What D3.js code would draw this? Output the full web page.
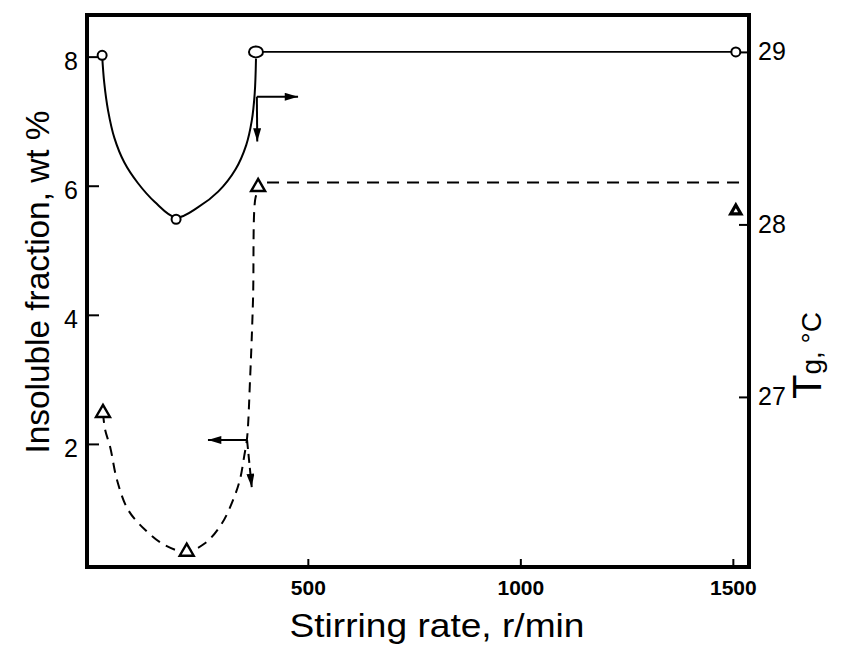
<!DOCTYPE html>
<html>
<head>
<meta charset="utf-8">
<script src="https://cdn.jsdelivr.net/npm/d3@7"></script>
<style>
  body { margin: 0; background: #fff; }
  text { font-family: "Liberation Sans", Arial, sans-serif; fill: #000; }
</style>
</head>
<body>
<div id="chart"></div>
<script>
// datos
var xTicks = [500, 1000, 1500];
var leftTicks = [2, 4, 6, 8];
var rightTicks = [27, 28, 29];

// Tg (eje derecho), circulos
var tgRate = [16, 190, 378, 1507];
var tgValue = [28.98, 28.03, 29.0, 29.0];

// fraccion insoluble (eje izquierdo), triangulos
var insRate = [18, 215, 383, 1507];
var insValue = [2.48, 0.33, 5.98, 5.61];

// trazo de la curva continua (Tg)
var tgTraceRate = [16, 21, 30, 45, 68, 100, 140, 190, 242, 289, 330, 355, 368, 375, 378];
var tgTraceValue = [28.98, 28.82, 28.66, 28.50, 28.36, 28.24, 28.13, 28.04, 28.10, 28.19, 28.32, 28.46, 28.60, 28.76, 28.96];

// trazo de la curva discontinua (insoluble)
var insTraceRate = [18, 23, 35, 51, 77, 117, 164, 213, 258, 298, 324, 340, 350, 357, 364, 371, 376, 383];
var insTraceValue = [2.48, 2.22, 1.95, 1.44, 0.98, 0.67, 0.43, 0.33, 0.46, 0.77, 1.13, 1.44, 1.80, 2.09, 2.99, 4.23, 5.78, 5.95];

// linea horizontal discontinua
var flatRate = [404, 1538];
var flatValue = [6.05, 6.05];

// Definimos las dimensiones
var W = 853, H = 659;
var frame = {left: 87, top: 15, right: 749, bottom: 567};

var svg = d3.select("#chart").append("svg")
  .attr("width", W).attr("height", H);

var x = d3.scaleLinear().domain([-19.6, 1538]).range([frame.left, frame.right]);
var yL = d3.scaleLinear().domain([0.093, 8.645]).range([frame.bottom, frame.top]);
var yR = d3.scaleLinear().domain([26.014, 29.214]).range([frame.bottom, frame.top]);

// flechas
var defs = svg.append("defs");
defs.append("marker")
  .attr("id", "head")
  .attr("viewBox", "0 0 10 6")
  .attr("refX", 10).attr("refY", 3)
  .attr("markerWidth", 14).attr("markerHeight", 8)
  .attr("markerUnits", "userSpaceOnUse")
  .attr("orient", "auto")
  .append("path").attr("d", "M0,0 L10,3 L0,6 Z").attr("fill", "#000");

// Ejes
var fmt = d3.format("d");
var xAxis = svg.append("g")
  .attr("transform", "translate(0," + frame.bottom + ")")
  .call(d3.axisBottom(x).tickValues(xTicks).tickFormat(fmt).tickSizeInner(-8).tickSizeOuter(0).tickPadding(13));

var leftAxis = svg.append("g")
  .attr("transform", "translate(" + frame.left + ",0)")
  .call(d3.axisLeft(yL).tickValues(leftTicks).tickFormat(fmt).tickSizeInner(-12).tickSizeOuter(0).tickPadding(9));

var rightAxis = svg.append("g")
  .attr("transform", "translate(" + frame.right + ",0)")
  .call(d3.axisRight(yR).tickValues(rightTicks).tickFormat(fmt).tickSizeInner(-10).tickSizeOuter(0).tickPadding(9));

[xAxis, leftAxis, rightAxis].forEach(function(a) {
  a.select(".domain").remove();
  a.selectAll(".tick line").attr("stroke", "#000").attr("stroke-width", 2);
  a.selectAll(".tick text").attr("fill", "#000");
});
xAxis.selectAll(".tick text").style("font-size", "21px").style("font-weight", "bold");
leftAxis.selectAll(".tick text").style("font-size", "25px").attr("dy", "0.5em");
rightAxis.selectAll(".tick text").style("font-size", "25px").attr("text-anchor", "start");

// marco
svg.append("rect")
  .attr("x", frame.left).attr("y", frame.top)
  .attr("width", frame.right - frame.left)
  .attr("height", frame.bottom - frame.top)
  .attr("fill", "none").attr("stroke", "#000").attr("stroke-width", 4);

// curvas
var lineTg = d3.line()
  .x(function(d, i) { return x(tgTraceRate[i]); })
  .y(function(d) { return yR(d); })
  .curve(d3.curveCatmullRom.alpha(0.5));

svg.append("path")
  .attr("d", lineTg(tgTraceValue))
  .attr("fill", "none").attr("stroke", "#000").attr("stroke-width", 2);

svg.append("line")
  .attr("x1", x(tgRate[2])).attr("y1", yR(tgValue[2]))
  .attr("x2", x(tgRate[3])).attr("y2", yR(tgValue[3]))
  .attr("stroke", "#000").attr("stroke-width", 1.6);

var lineIns = d3.line()
  .x(function(d, i) { return x(insTraceRate[i]); })
  .y(function(d) { return yL(d); })
  .curve(d3.curveCatmullRom.alpha(0.5));

svg.append("path")
  .attr("d", lineIns(insTraceValue))
  .attr("fill", "none").attr("stroke", "#000").attr("stroke-width", 2)
  .attr("stroke-dasharray", "10,7");

svg.append("line")
  .attr("x1", x(flatRate[0])).attr("y1", yL(flatValue[0]))
  .attr("x2", x(flatRate[1])).attr("y2", yL(flatValue[1]))
  .attr("stroke", "#000").attr("stroke-width", 2)
  .attr("stroke-dasharray", "12,8");

// flechas (coordenadas en unidades de los datos)
var arrows = [
  {r1: 380, v1: 28.74, r2: 477, v2: 28.74, s: yR, dash: null},
  {r1: 380, v1: 28.74, r2: 381, v2: 28.48, s: yR, dash: null},
  {r1: 357, v1: 2.06, r2: 265, v2: 2.06, s: yL, dash: null},
  {r1: 357, v1: 2.06, r2: 368, v2: 1.33, s: yL, dash: "9,5"}
];
svg.selectAll("line.arrow")
  .data(arrows)
  .enter().append("line")
  .attr("class", "arrow")
  .attr("x1", function(d) { return x(d.r1); })
  .attr("y1", function(d) { return d.s(d.v1); })
  .attr("x2", function(d) { return x(d.r2); })
  .attr("y2", function(d) { return d.s(d.v2); })
  .attr("stroke", "#000").attr("stroke-width", 2)
  .attr("stroke-dasharray", function(d) { return d.dash; })
  .attr("marker-end", "url(#head)");

// marcadores
svg.selectAll("ellipse.tg")
  .data(tgValue)
  .enter().append("ellipse")
  .attr("class", "tg")
  .attr("cx", function(d, i) { return x(tgRate[i]); })
  .attr("cy", function(d) { return yR(d); })
  .attr("rx", function(d, i) { return i == 2 ? 7 : 4.5; })
  .attr("ry", function(d, i) { return i == 2 ? 5.5 : 4.5; })
  .attr("fill", "#fff").attr("stroke", "#000").attr("stroke-width", 2);

var tri = d3.symbol().type(d3.symbolTriangle);
svg.selectAll("path.ins")
  .data(insValue)
  .enter().append("path")
  .attr("class", "ins")
  .attr("d", function(d, i) { return tri.size(i == 3 ? 45 : 85)(); })
  .attr("transform", function(d, i) { return "translate(" + x(insRate[i]) + "," + yL(d) + ")"; })
  .attr("fill", "#fff").attr("stroke", "#000")
  .attr("stroke-width", function(d, i) { return i == 3 ? 3.2 : 2.4; });

// titulos de los ejes
svg.append("text")
  .attr("transform", "translate(49,282) rotate(-90)")
  .attr("text-anchor", "middle")
  .attr("textLength", 343).attr("lengthAdjust", "spacingAndGlyphs")
  .style("font-size", "34px")
  .text("Insoluble  fraction, wt %");

svg.append("text")
  .attr("x", 437).attr("y", 637)
  .attr("text-anchor", "middle")
  .attr("textLength", 295).attr("lengthAdjust", "spacingAndGlyphs")
  .style("font-size", "33px")
  .text("Stirring rate, r/min");

var tgLabel = svg.append("text")
  .attr("transform", "translate(821,399) rotate(-90)");
tgLabel.append("tspan").style("font-size", "40px").text("T");
tgLabel.append("tspan").style("font-size", "28px").text("g, °C");
</script>
</body>
</html>
